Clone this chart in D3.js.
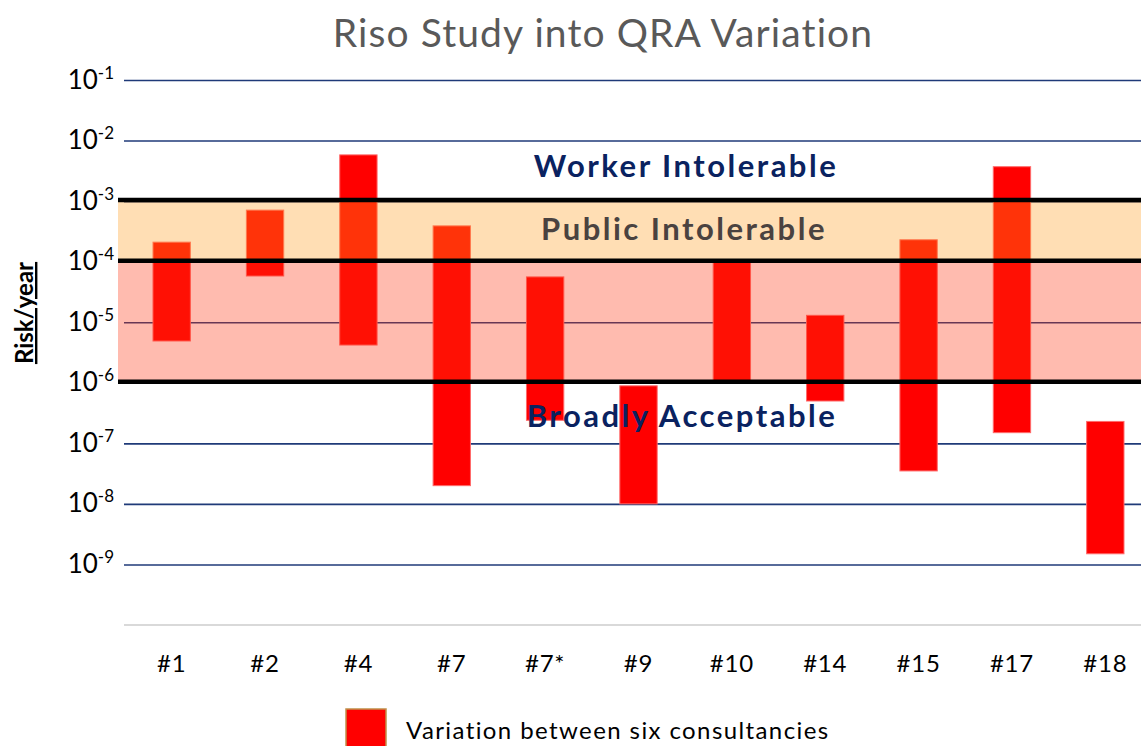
<!DOCTYPE html>
<html>
<head>
<meta charset="utf-8">
<script src="https://cdn.jsdelivr.net/npm/d3@7"></script>
<style>
  body { margin: 0; background: #fff; }
  svg { display: block; font-family: Lato, "Open Sans", sans-serif; }
</style>
</head>
<body>
<div id="chart"></div>
<script>
// studies along the x axis
var studies = ['#1', '#2', '#4', '#7', '#7*', '#9', '#10', '#14', '#15', '#17', '#18'];
// highest and lowest risk estimate from the six consultancies (per year)
var riskHigh = [2.1e-4, 7.1e-4, 5.8e-3, 3.9e-4, 5.6e-5, 8.9e-7, 1.0e-4, 1.3e-5, 2.3e-4, 3.7e-3, 2.3e-7];
var riskLow  = [4.9e-6, 5.8e-5, 4.2e-6, 2.0e-8, 2.4e-7, 1.0e-8, 1.03e-6, 5.0e-7, 3.5e-8, 1.5e-7, 1.5e-9];
// decade ticks on the y axis (exponents)
var tickExps = [-1, -2, -3, -4, -5, -6, -7, -8, -9];
// tolerability thresholds
var workerLimit = 1e-3;
var publicLimit = 1e-4;
var broadlyLimit = 1e-6;
var zoneLabels = ['Worker Intolerable', 'Public Intolerable', 'Broadly Acceptable'];

var svgWidth = 1141;
var svgHeight = 746;

var plotLeft = 124;
var plotRight = 1141;

var svg = d3.select('#chart')
    .append('svg')
    .attr('width', svgWidth)
    .attr('height', svgHeight);

// scales
var y = d3.scaleLog()
    .domain([1e-10, 1e-1])
    .range([625, 80]);

var x = d3.scaleBand()
    .domain(studies)
    .range([125, 1152])
    .paddingInner(0.6)
    .paddingOuter(0.3);

// title
svg.append('text')
    .attr('x', 603)
    .attr('y', 47)
    .attr('text-anchor', 'middle')
    .style('font-size', '39px')
    .style('letter-spacing', '1.1px')
    .style('fill', '#595959')
    .text('Riso Study into QRA Variation');

// grid lines
var grid = svg.append('g')
    .attr('transform', `translate(${plotLeft}, 0)`)
    .call(d3.axisLeft(y)
        .tickValues(tickExps.map(e => Math.pow(10, e)))
        .tickSize(-(plotRight - plotLeft))
        .tickFormat(''));
grid.select('.domain').remove();
grid.selectAll('line')
    .attr('stroke', '#1f3a78')
    .attr('stroke-width', 1.6);

// bars
svg.append('g')
    .selectAll('rect')
    .data(studies)
    .enter()
    .append('rect')
    .attr('x', d => x(d))
    .attr('width', x.bandwidth())
    .attr('y', (d, i) => y(riskHigh[i]))
    .attr('height', (d, i) => y(riskLow[i]) - y(riskHigh[i]))
    .attr('fill', '#ff0000')
    .attr('stroke', '#ff6a6a')
    .attr('stroke-width', 1);

// tolerability zones, laid over the bars
svg.append('rect')
    .attr('x', 118)
    .attr('width', plotRight - 118)
    .attr('y', y(workerLimit))
    .attr('height', y(publicLimit) - y(workerLimit))
    .attr('fill', 'rgb(255,155,27)')
    .attr('fill-opacity', 0.33);

svg.append('rect')
    .attr('x', 118)
    .attr('width', plotRight - 118)
    .attr('y', y(publicLimit))
    .attr('height', y(broadlyLimit) - y(publicLimit))
    .attr('fill', 'rgb(255,49,12)')
    .attr('fill-opacity', 0.33);

// threshold lines
svg.append('g')
    .selectAll('line')
    .data([workerLimit, publicLimit, broadlyLimit])
    .enter()
    .append('line')
    .attr('x1', 118)
    .attr('x2', plotRight)
    .attr('y1', d => y(d) - 1)
    .attr('y2', d => y(d) - 1)
    .attr('stroke', '#000')
    .attr('stroke-width', 4.5);

// zone labels
var zoneText = svg.append('g')
    .style('font-weight', 'bold')
    .style('font-size', '31px')
    .style('letter-spacing', '2.5px')
    .attr('text-anchor', 'middle');
zoneText.append('text')
    .attr('x', 686).attr('y', 177)
    .style('fill', '#0a2260')
    .text(zoneLabels[0]);
zoneText.append('text')
    .attr('x', 684).attr('y', 240)
    .style('fill', '#4a4240')
    .text(zoneLabels[1]);
zoneText.append('text')
    .attr('x', 682).attr('y', 427)
    .style('fill', '#0a2260')
    .text(zoneLabels[2]);

// y tick labels with superscript exponents
var yAxis = svg.append('g')
    .attr('transform', 'translate(114, 0)')
    .call(d3.axisLeft(y)
        .tickValues(tickExps.map(e => Math.pow(10, e)))
        .tickSize(0)
        .tickPadding(0)
        .tickFormat(''));
yAxis.select('.domain').remove();
yAxis.selectAll('.tick text').remove();
yAxis.selectAll('.tick')
    .append('text')
    .attr('text-anchor', 'end')
    .attr('y', 8)
    .style('fill', '#000')
    .style('font-family', 'Lato, sans-serif')
    .each(function(d) {
        var t = d3.select(this);
        t.append('tspan')
            .style('font-size', '26px')
            .text('10');
        t.append('tspan')
            .attr('dy', -10)
            .style('font-size', '17px')
            .text(Math.round(Math.log10(d)));
    });

// x axis
var xAxis = svg.append('g')
    .attr('transform', 'translate(0, 625)')
    .call(d3.axisBottom(x).tickSize(0).tickPadding(0));
xAxis.select('.domain').remove();
xAxis.selectAll('text')
    .attr('dy', 0)
    .attr('y', 47)
    .style('font-size', '24px')
    .style('letter-spacing', '0.8px')
    .style('font-family', 'Lato, sans-serif')
    .style('fill', '#000');

// bottom axis line
svg.append('line')
    .attr('x1', plotLeft)
    .attr('x2', plotRight)
    .attr('y1', y(1e-10))
    .attr('y2', y(1e-10))
    .attr('stroke', '#d9d9d9')
    .attr('stroke-width', 2);

// y axis title
svg.append('text')
    .attr('transform', 'translate(33, 313) rotate(-90)')
    .attr('text-anchor', 'middle')
    .style('font-size', '24px')
    .style('font-weight', 'bold')
    .style('text-decoration', 'underline')
    .style('fill', '#000')
    .text('Risk/year');

// legend
svg.append('rect')
    .attr('x', 346)
    .attr('y', 709)
    .attr('width', 40)
    .attr('height', 50)
    .attr('fill', '#ff0000')
    .attr('stroke', '#c0904a')
    .attr('stroke-width', 1.5);

svg.append('text')
    .attr('x', 406)
    .attr('y', 739)
    .style('font-size', '24px')
    .style('letter-spacing', '1.4px')
    .style('fill', '#000')
    .text('Variation between six consultancies');
</script>
</body>
</html>
